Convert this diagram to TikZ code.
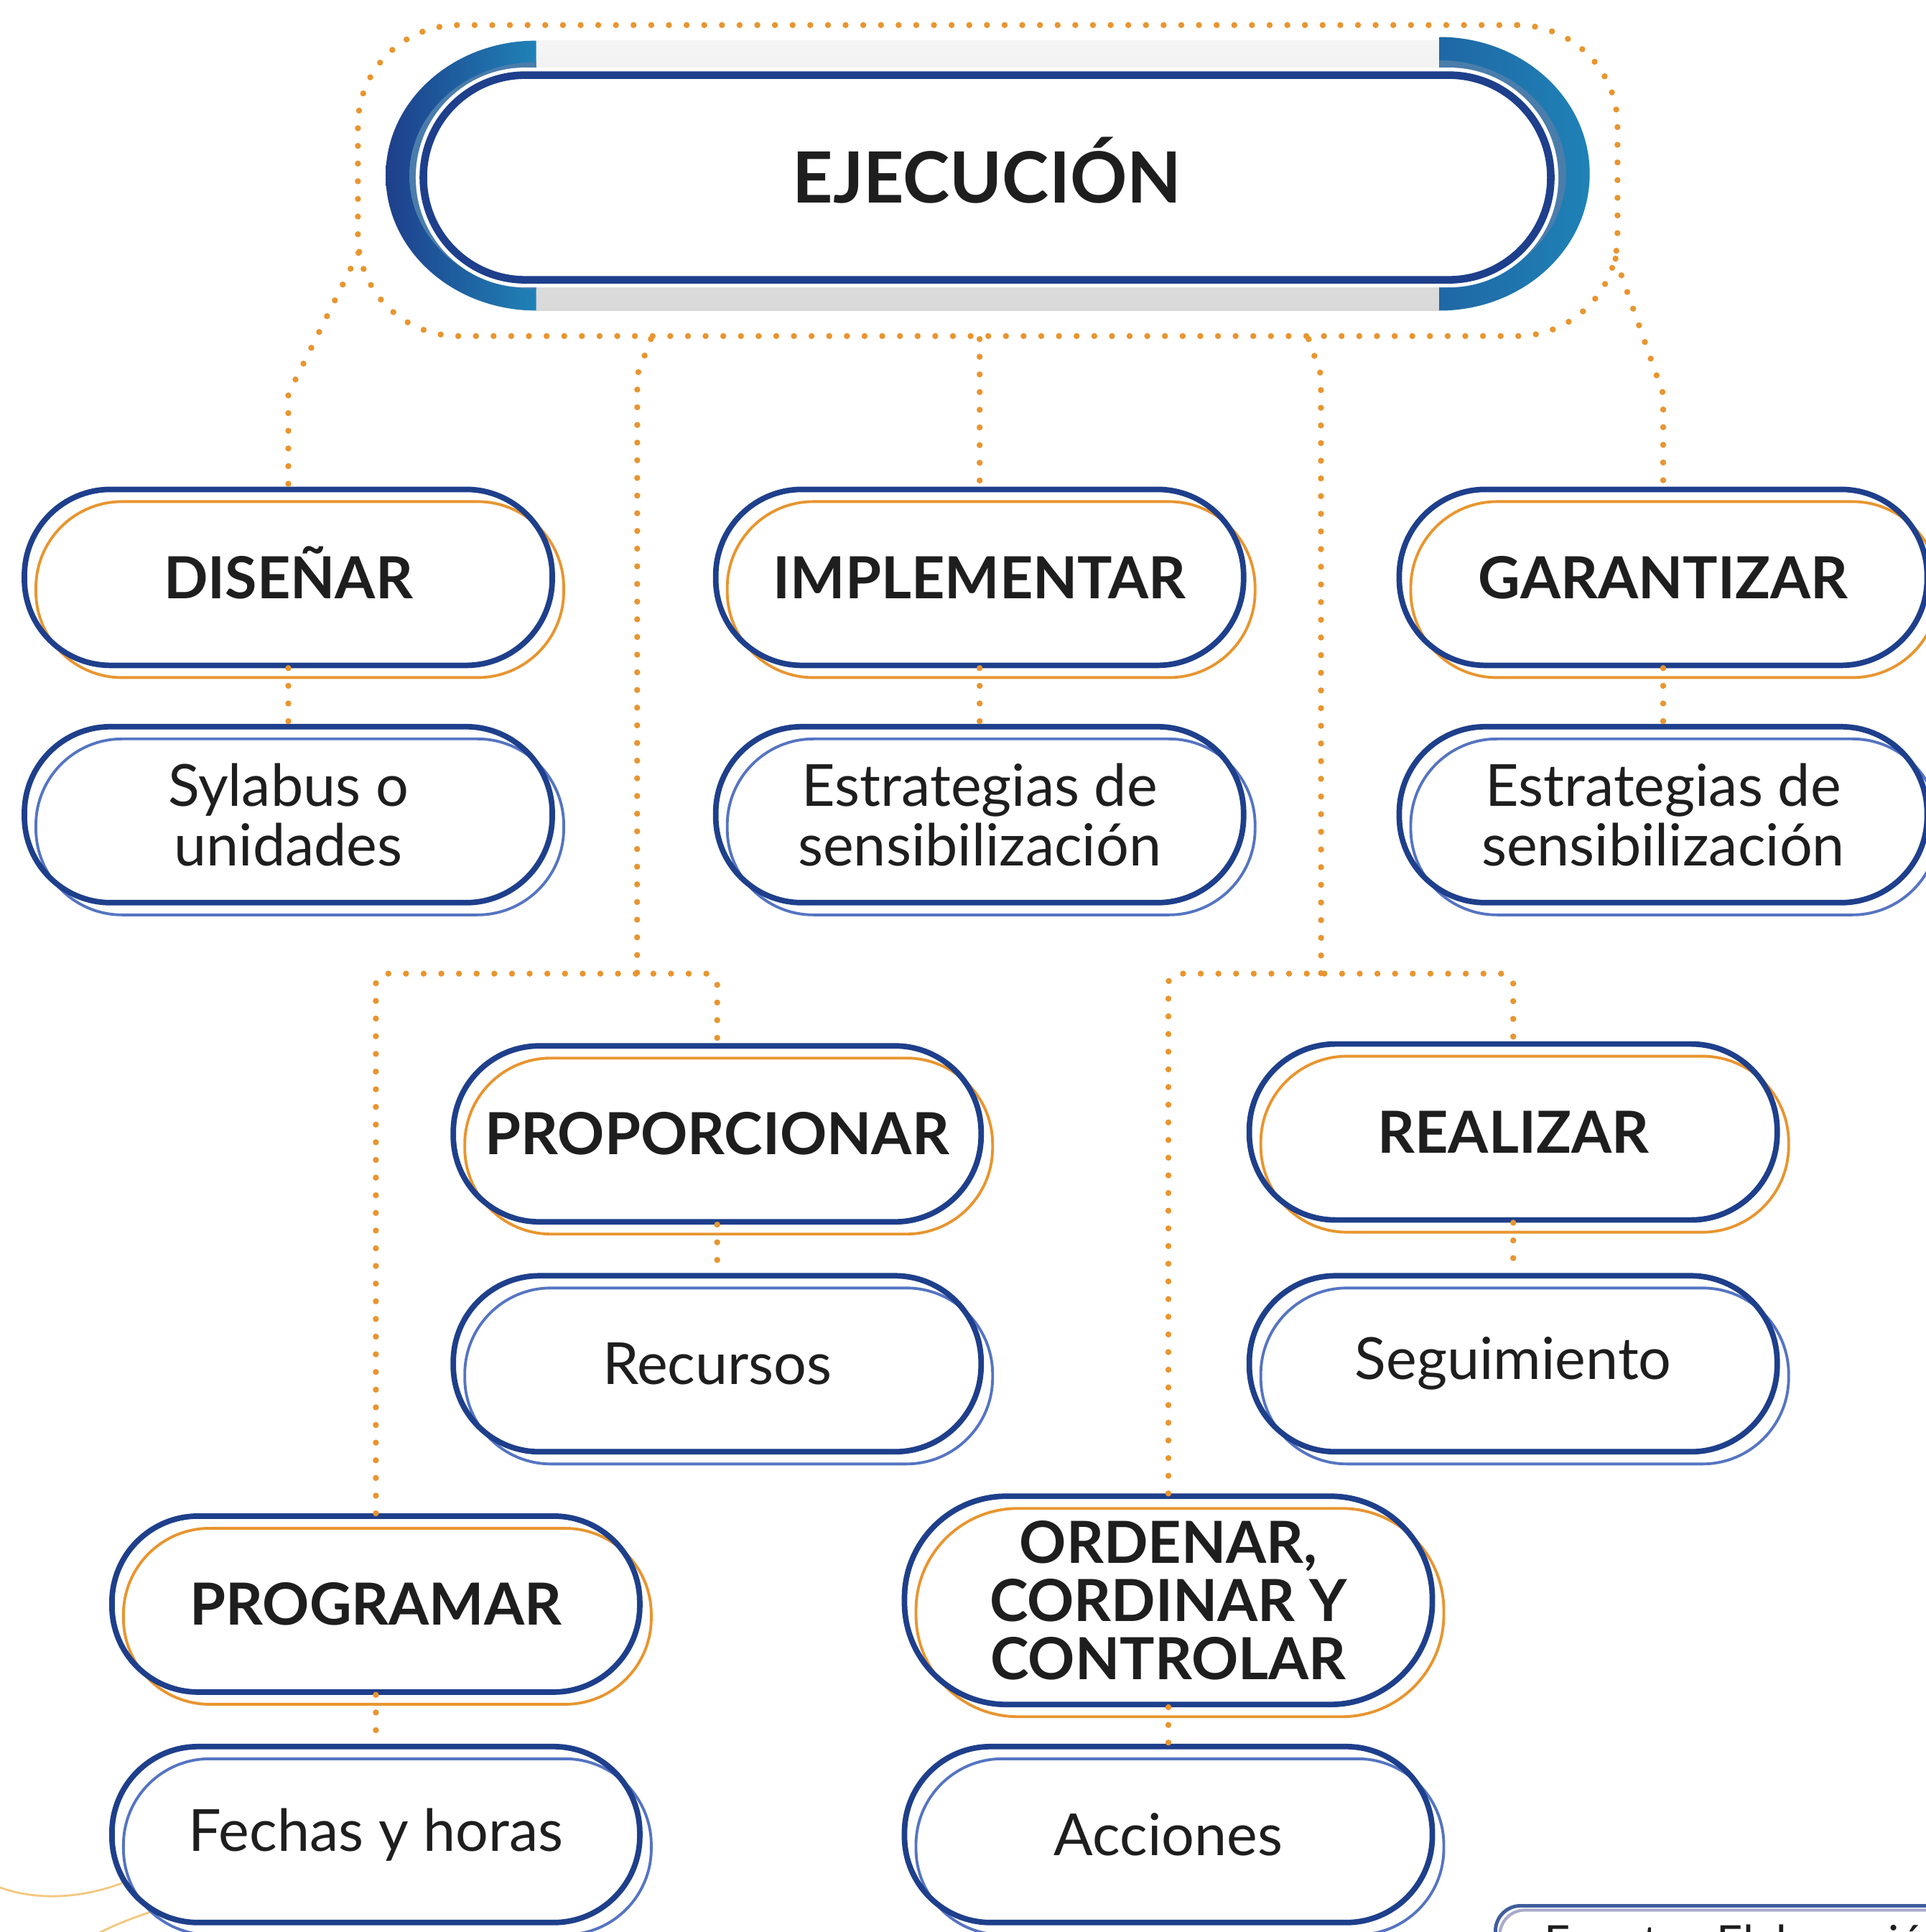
\documentclass[tikz,border=0pt]{standalone}
\usepackage{fontspec}
\setmainfont{Lato}
\usetikzlibrary{calc}

\definecolor{ora}{HTML}{E8952F}
\definecolor{dkb}{HTML}{1E3F8B}
\definecolor{lib}{HTML}{5574C2}
\definecolor{tea}{HTML}{1F82B6}
\definecolor{stl}{HTML}{4A7DAB}
\definecolor{txt}{HTML}{1E1E1E}
\definecolor{lav}{HTML}{A9AACB}
\definecolor{crv}{HTML}{F3C77E}

\begin{document}
\begin{tikzpicture}[
    dotline/.style={draw=ora, line width=2.4pt, line cap=round, dash pattern=on 0pt off 7pt},
    pill/.style={rectangle, rounded corners=1.2cm, minimum width=7.35cm, minimum height=2.45cm,
        draw=dkb, line width=2.2pt, text=txt, align=center, preaction={fill=white}},
    mainbox/.style={pill, font=\bfseries\fontsize{23}{23}\selectfont, text height=16.6pt, text depth=0pt,
        preaction={draw=ora, line width=1.1pt, transform canvas={shift={(0.16,-0.17)}}}},
    subbox/.style={pill, font=\fontsize{23}{23.5}\selectfont,
        preaction={draw=lib, line width=1.1pt, transform canvas={shift={(0.16,-0.17)}}}},
    titlebox/.style={rectangle, rounded corners=1.42cm, minimum width=15.7cm, minimum height=2.85cm,
        draw=dkb, line width=3pt, fill=white, preaction={draw=white, line width=6pt},
        text=txt, font=\bfseries\fontsize{28}{30}\selectfont, text height=20.2pt, text depth=0pt},
    srcbox/.style={rectangle, rounded corners=0.35cm, draw=dkb!85, line width=1.4pt,
        text width=7cm, align=left, text height=0.44cm, inner ysep=0.29cm, inner xsep=0.68cm,
        text=txt, font=\fontsize{18}{20}\selectfont, preaction={fill=white},
        preaction={draw=lav, line width=1.2pt, transform canvas={shift={(0.06,-0.06)}}}},
]
    \path[use as bounding box, clip] (0,0) rectangle (26.82,-26.90);
    \fill[white] (0,0) rectangle (26.82,-26.90);
    %%%%%%%%%%%%%%%%%%%%%%%%%%%%%%%%%%
    \draw[crv, line width=0.8pt] (0,-26.28) .. controls (0.5,-26.46) and (1.1,-26.44) .. (1.7,-26.22); % trazo
    \draw[crv, line width=0.8pt] (1.3,-26.95) .. controls (1.6,-26.8) and (1.8,-26.72) .. (2.1,-26.62); % trazo
    %%%%%%%%%%%%%%%%%%%%%%%%%%%%%%%%%%
    \shade[top color=gray!8, bottom color=gray!30] (7.465,-0.566) rectangle (20.043,-4.324); % banda gris
    \shade[left color=dkb, right color=tea] (7.465,-0.566) arc[start angle=90, end angle=270, x radius=2.094cm, y radius=1.879cm] -- cycle; % arco izq
    \fill[stl] (7.465,-0.865) arc[start angle=90, end angle=270, x radius=1.765cm, y radius=1.58cm] -- cycle;
    \shade[left color=tea!60!dkb, right color=tea] (20.043,-0.515) arc[start angle=90, end angle=-90, x radius=2.094cm, y radius=1.905cm] -- cycle; % arco der
    \fill[stl] (20.043,-0.84) arc[start angle=90, end angle=-90, x radius=1.765cm, y radius=1.58cm] -- cycle;
    \node[titlebox] (eje) at (13.745,-2.471) {EJECUCIÓN};
    \node[dotline, rounded corners=1.4cm, minimum width=17.54cm, minimum height=4.33cm] (frm) at (13.754,-2.514) {};
    %%%%%%%%%%%%%%%%%%%%%%%%%%%%%%%%%%
    \node[mainbox] (dis) at (4.015,-8.039) {DISEÑAR};
    \node[subbox] (syl) at (4.015,-11.343) {Sylabus o\\unidades};
    \node[mainbox] (imp) at (13.642,-8.039) {IMPLEMENTAR};
    \node[subbox] (est1) at (13.642,-11.343) {Estrategias de\\sensibilización};
    \node[mainbox] (gar) at (23.16,-8.039) {GARANTIZAR};
    \node[subbox] (est2) at (23.16,-11.343) {Estrategias de\\sensibilización};
    \node[mainbox] (pro) at (9.987,-15.787) {PROPORCIONAR};
    \node[subbox] (rec) at (9.987,-18.988) {Recursos};
    \node[mainbox] (rea) at (21.072,-15.761) {REALIZAR};
    \node[subbox] (seg) at (21.072,-18.988) {Seguimiento};
    \node[mainbox] (prg) at (5.234,-22.334) {PROGRAMAR};
    \node[subbox] (fec) at (5.234,-25.543) {Fechas y horas};
    \node[mainbox, minimum height=2.9cm, rounded corners=1.42cm, text height=62.6pt, text depth=0pt] (ord) at (16.27,-22.282) {ORDENAR,\\CORDINAR Y\\CONTROLAR};
    \node[subbox] (acc) at (16.27,-25.543) {Acciones};
    \node[srcbox, anchor=north west] (src) at (20.80,-26.51) {Fuente: Elaboración};
    %%%%%%%%%%%%%%%%%%%%%%%%%%%%%%%%%%
    \coordinate (jl) at (8.872,-13.556);
    \coordinate (jr) at (18.396,-13.556);
    \draw[dotline] ([shift={(0.05,1.2)}]frm.south west) -- ([yshift=1.29cm]dis.north) -- (dis.north); % DISENAR
    \draw[dotline] (imp.north |- frm.south) -- (imp.north); % IMPLEMENTAR
    \draw[dotline] ([shift={(-0.07,1.12)}]frm.south east) -- ([yshift=1.29cm]gar.north) -- (gar.north); % GARANTIZAR
    \draw[dotline] ([xshift=-4.69cm]frm.south) -- ++(-0.19,-0.5) -- (jl); % rama izq
    \draw[dotline] ([xshift=4.47cm]frm.south) -- ++(0.17,-0.5) -- (jr); % rama der
    \draw[dotline, rounded corners=4pt] (prg.north) |- (jl) -| (pro.north);
    \draw[dotline, rounded corners=4pt] (ord.north) |- (jr) -| (rea.north);
    %%%%%%%%%%%%%%%%%%%%%%%%%%%%%%%%%%
    \draw[dotline] (dis.south) -- (syl.north);
    \draw[dotline] (imp.south) -- (est1.north);
    \draw[dotline] (gar.south) -- (est2.north);
    \draw[dotline] (pro.south) -- (rec.north);
    \draw[dotline] (rea.south) -- (seg.north);
    \draw[dotline] (prg.south) -- (fec.north);
    \draw[dotline] (ord.south) -- (acc.north);
\end{tikzpicture}
\end{document}
